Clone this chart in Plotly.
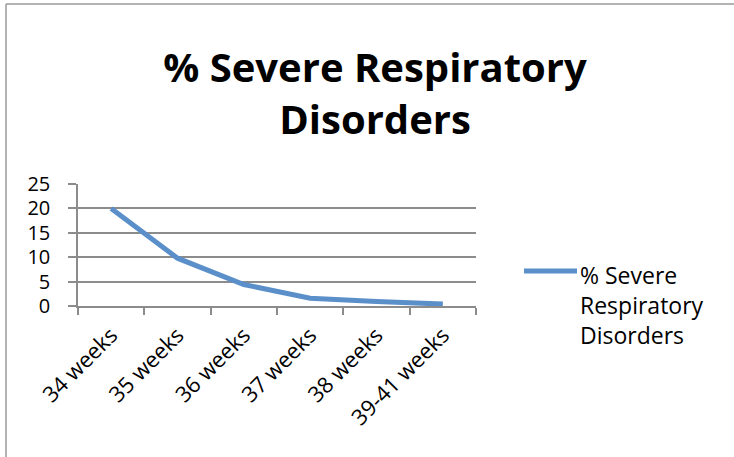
import plotly.graph_objects as go

# Gestational age at delivery and share of infants with severe respiratory disorders
categories = ["34 weeks", "35 weeks", "36 weeks", "37 weeks", "38 weeks", "39-41 weeks"]
severe_pct = [20, 9.8, 4.4, 1.6, 0.9, 0.4]
series_name = "% Severe Respiratory Disorders"
legend_text = "% Severe<br>Respiratory<br>Disorders"
y_ticks = [0, 5, 10, 15, 20, 25]

FONT = "'Open Sans', sans-serif"
GRID = "#8c8c8c"
LINE = "#5b8fc9"

W, H = 734, 457
L, R, T, B = 78, 258, 184, 151
pw, ph = W - L - R, H - T - B

fig = go.Figure()
fig.add_trace(go.Scatter(
    x=categories, y=severe_pct, mode="lines", name=series_name,
    line=dict(color=LINE, width=5), showlegend=False,
))


def px_x(px):
    return (px - L) / pw


def px_y(py):
    return (H - B - py) / ph


fig.update_layout(
    width=W, height=H,
    margin=dict(l=L, r=R, t=T, b=B),
    paper_bgcolor="white", plot_bgcolor="white",
    title=dict(
        text="<b>% Severe Respiratory<br>Disorders</b>",
        x=375 / W, xanchor="center",
        y=1 - 82 / H, yanchor="middle",
        font=dict(family=FONT, size=40, color="black"),
    ),
    xaxis=dict(
        type="category", showgrid=False, showline=True, linecolor=GRID, linewidth=1.5,
        ticks="outside", tickson="boundaries", ticklen=7, tickcolor=GRID, tickwidth=1.5,
        tickangle=-45, tickfont=dict(family=FONT, size=22, color="black"),
        ticklabelstandoff=6,
        range=[-0.5, len(categories) - 0.5],
    ),
    yaxis=dict(
        range=[0, 25], tickvals=y_ticks, showgrid=True, gridcolor=GRID, gridwidth=1.5,
        showline=True, linecolor=GRID, linewidth=1.5, zeroline=False,
        ticks="outside", ticklen=8, tickcolor=GRID, tickwidth=1.5,
        ticklabelstandoff=14,
        tickfont=dict(family=FONT, size=20, color="black"),
    ),
    shapes=[
        # chart frame (top and left edges)
        dict(type="line", xref="paper", yref="paper",
             x0=px_x(6), x1=px_x(W + 2), y0=px_y(4), y1=px_y(4),
             line=dict(color="#9a9a9a", width=1.5)),
        dict(type="line", xref="paper", yref="paper",
             x0=px_x(6), x1=px_x(6), y0=px_y(4), y1=px_y(H + 2),
             line=dict(color="#9a9a9a", width=1.5)),
        # legend key
        dict(type="line", xref="paper", yref="paper",
             x0=px_x(524), x1=px_x(577), y0=px_y(271), y1=px_y(271),
             line=dict(color=LINE, width=5)),
    ],
    annotations=[
        dict(text=legend_text, xref="paper", yref="paper",
             x=px_x(578), xanchor="left", y=px_y(257), yanchor="top",
             align="left", showarrow=False,
             font=dict(family=FONT, size=23, color="black")),
    ],
)

fig.write_html("out.html")
